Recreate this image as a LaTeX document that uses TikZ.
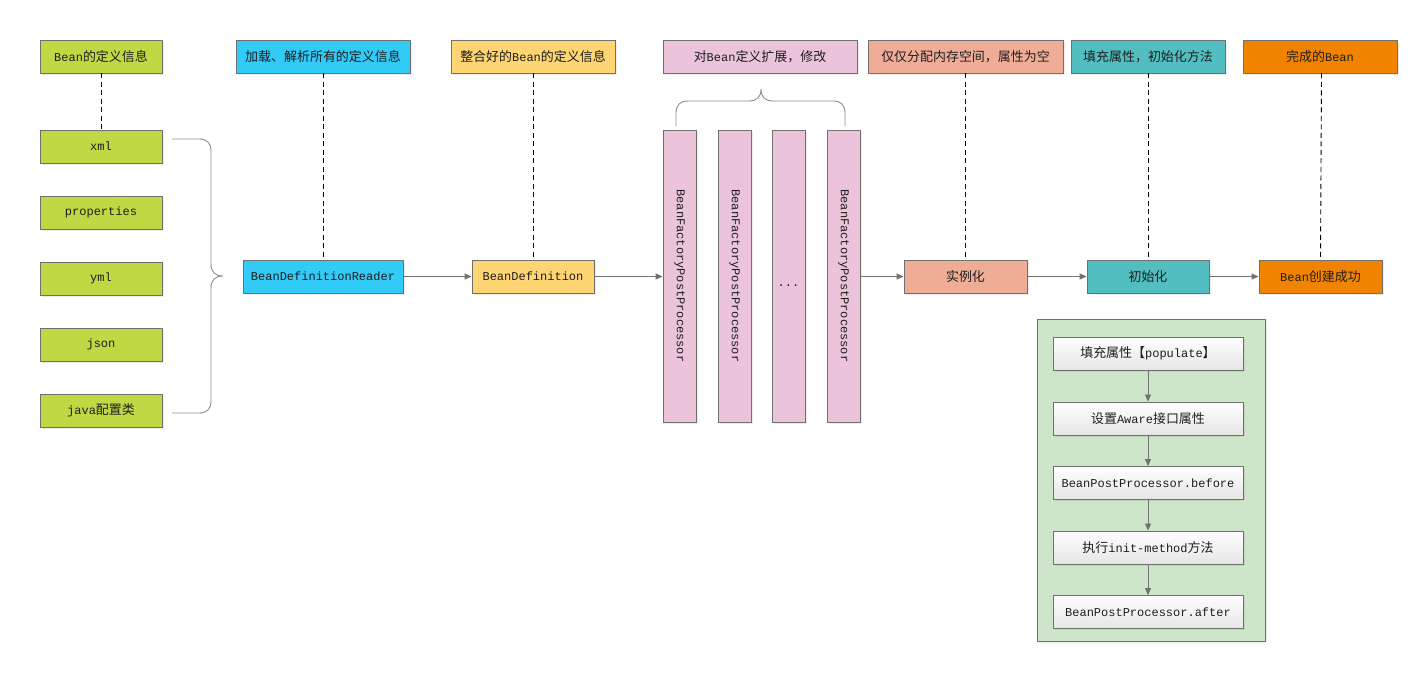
\documentclass[tikz,border=0pt]{standalone}
\usepackage{fontspec}
\usepackage{graphicx}
\setmainfont{Liberation Mono}
\newfontfamily\cjk[Scale=1.08]{Noto Sans CJK SC}
\newcommand{\zh}[1]{{\cjk #1}}
\usetikzlibrary{arrows.meta,shadows}
\definecolor{cgreen}{RGB}{193,216,69}
\definecolor{cblue}{RGB}{50,202,246}
\definecolor{cyellow}{RGB}{255,213,115}
\definecolor{cpink}{RGB}{235,196,219}
\definecolor{csalmon}{RGB}{239,173,151}
\definecolor{cteal}{RGB}{82,190,192}
\definecolor{corange}{RGB}{240,132,0}
\definecolor{clgreen}{RGB}{205,229,200}
\definecolor{cborder}{RGB}{112,112,112}
\definecolor{ctext}{RGB}{30,30,30}
\tikzset{
  box/.style={draw=cborder, line width=0.9pt, minimum height=33pt, inner sep=0pt,
    text=ctext, font=\fontsize{12}{14}\selectfont,
    drop shadow={shadow xshift=1.5pt, shadow yshift=-1.5pt, opacity=0.15}},
  col/.style={box, fill=cpink, minimum width=33pt, minimum height=292pt},
  inner/.style={box, minimum width=190pt, top color=white, bottom color=black!10},
  dashln/.style={draw=black, line width=0.9pt, dash pattern=on 5pt off 3.5pt},
  arr/.style={draw=cborder, line width=0.9pt, -{Triangle[length=7pt,width=6pt]}},
  brace/.style={draw=cborder!80, line width=0.9pt},
}
\begin{document}
\begin{tikzpicture}[x=1pt,y=-1pt]
\fill[white] (0,0) rectangle (1422,681);
\useasboundingbox (0,0) rectangle (1422,681);
% top labels
\node[box, fill=cgreen, minimum width=122pt] (l1) at (101,56.5) {Bean\zh{的定义信息}};
\node[box, fill=cblue, minimum width=174pt] (l2) at (323,56.5) {\zh{加载、解析所有的定义信息}};
\node[box, fill=cyellow, minimum width=164pt] (l3) at (533,56.5) {\zh{整合好的}Bean\zh{的定义信息}};
\node[box, fill=cpink, minimum width=194pt] (l4) at (760,56.5) {\zh{对}Bean\zh{定义扩展，修改}};
\node[box, fill=csalmon, minimum width=195pt] (l5) at (965.5,56.5) {\zh{仅仅分配内存空间，属性为空}};
\node[box, fill=cteal, minimum width=154pt] (l6) at (1148,56.5) {\zh{填充属性，初始化方法}};
\node[box, fill=corange, minimum width=154pt] (l7) at (1320,56.5) {\zh{完成的}Bean};
% left column
\node[box, fill=cgreen, minimum width=122pt] (xml) at (101,146.5) {xml};
\node[box, fill=cgreen, minimum width=122pt] (prop) at (101,212.5) {properties};
\node[box, fill=cgreen, minimum width=122pt] (yml) at (101,278.5) {yml};
\node[box, fill=cgreen, minimum width=122pt] (json) at (101,344.5) {json};
\node[box, fill=cgreen, minimum width=122pt] (java) at (101,410.5) {java\zh{配置类}};
% main flow
\node[box, fill=cblue, minimum width=160pt] (reader) at (323,276.5) {BeanDefinitionReader};
\node[box, fill=cyellow, minimum width=122pt] (bdef) at (533,276.5) {BeanDefinition};
\node[col] (f1) at (679.5,276) {\rotatebox{-90}{BeanFactoryPostProcessor}};
\node[col] (f2) at (734.5,276) {\rotatebox{-90}{BeanFactoryPostProcessor}};
\node[col] (f3) at (788.5,276) {};
\node[text=ctext, font=\fontsize{12}{14}\selectfont, inner sep=0pt] (dots) at (788.5,286) {...};
\node[col] (f4) at (843.5,276) {\rotatebox{-90}{BeanFactoryPostProcessor}};
\node[box, fill=csalmon, minimum width=123pt] (inst) at (965.5,276.5) {\zh{实例化}};
\node[box, fill=cteal, minimum width=122pt] (init) at (1148,276.5) {\zh{初始化}};
\node[box, fill=corange, minimum width=123pt] (done) at (1320.5,276.5) {Bean\zh{创建成功}};
% green detail box
\node[draw=cborder, line width=0.9pt, fill=clgreen, minimum width=228pt, minimum height=322pt, inner sep=0pt,
  drop shadow={shadow xshift=1.5pt, shadow yshift=-1.5pt, opacity=0.15}] (gbox) at (1151,480) {};
\node[inner] (s1) at (1148,353.5) {\zh{填充属性【}populate\zh{】}};
\node[inner] (s2) at (1148,418.5) {\zh{设置}Aware\zh{接口属性}};
\node[inner] (s3) at (1148,483) {BeanPostProcessor.before};
\node[inner] (s4) at (1148,547.5) {\zh{执行}init-method\zh{方法}};
\node[inner] (s5) at (1148,612) {BeanPostProcessor.after};
% dashed lines
\draw[dashln] (l1.south) -- (xml.north);
\draw[dashln] (l2.south) -- (reader.north);
\draw[dashln] (l3.south) -- (bdef.north);
\draw[dashln] (l5.south) -- (inst.north);
\draw[dashln] (l6.south) -- (init.north);
\draw[dashln] ([xshift=1.5pt]l7.south) -- (done.north);
% arrows
\draw[arr] (reader) -- (bdef);
\draw[arr] (bdef.east) -- (f1.west |- bdef.east);
\draw[arr] (f4.east |- inst.west) -- (inst.west);
\draw[arr] (inst) -- (init);
\draw[arr] (init) -- (done);
\draw[arr] (s1) -- (s2);
\draw[arr] (s2) -- (s3);
\draw[arr] (s3) -- (s4);
\draw[arr] (s4) -- (s5);
% left brace
\draw[brace] (172,139) -- (199,139) .. controls (207,139) and (211,143) .. (211,151) -- (211,264)
  .. controls (211,272) and (215,276) .. (223,276) .. controls (215,276) and (211,280) .. (211,288)
  -- (211,401) .. controls (211,409) and (207,413) .. (199,413) -- (172,413);
% top brace
\draw[brace] (676,126) -- (676,113) .. controls (676,105) and (680,101) .. (688,101) -- (749,101)
  .. controls (757,101) and (761,97) .. (761,89) .. controls (761,97) and (765,101) .. (773,101)
  -- (833,101) .. controls (841,101) and (845,105) .. (845,113) -- (845,126);
\end{tikzpicture}
\end{document}
